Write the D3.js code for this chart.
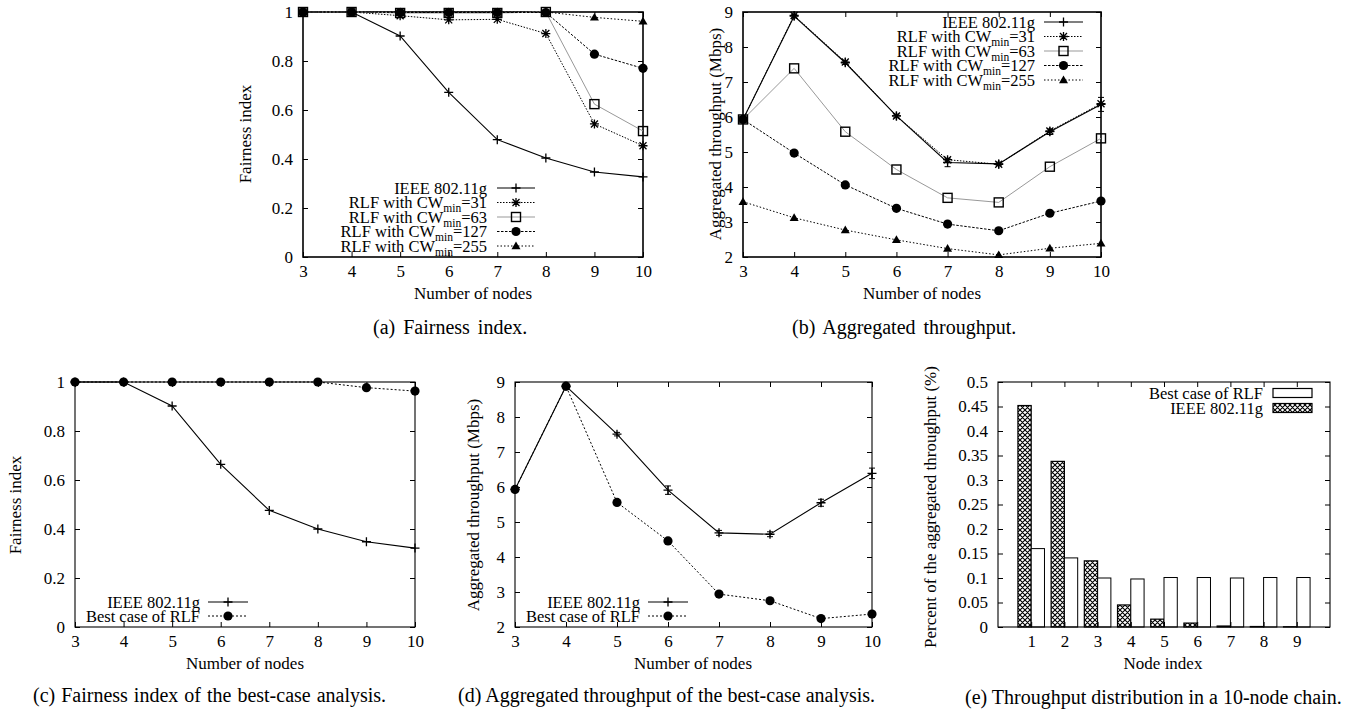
<!DOCTYPE html>
<html lang="en">
<head>
<meta charset="UTF-8" />
<title>RLF fairness and throughput</title>
<style>
  body { margin: 0; background: #fff; }
  svg { display: block; }
  text { font-family: "Liberation Serif", "Times New Roman", serif; fill: #000; }
</style>
</head>
<body>
<svg id="fig" width="1372" height="715"></svg>
<script src="https://d3js.org/d3.v7.min.js"></script>
<script>
const nodes = [3, 4, 5, 6, 7, 8, 9, 10];

// (a) fairness index
const fairIeee  = [1, 1, 0.902, 0.672, 0.479, 0.404, 0.347, 0.327];
const fairCw31  = [1, 1, 0.985, 0.968, 0.970, 0.912, 0.543, 0.454];
const fairCw63  = [1, 1, 0.996, 0.996, 0.996, 1, 0.624, 0.514];
const fairCw127 = [1, 1, 0.998, 0.998, 0.998, 0.998, 0.828, 0.770];
const fairCw255 = [1, 1, 1, 1, 1, 1, 0.978, 0.962];

// (b) aggregated throughput (Mbps)
const thrIeee    = [5.93, 8.88, 7.55, 6.03, 4.70, 4.66, 5.58, 6.36];
const thrIeeeErr = [0.02, 0.05, 0.05, 0.05, 0.12, 0.05, 0.08, 0.20];
const thrCw31    = [5.93, 8.90, 7.57, 6.03, 4.78, 4.65, 5.60, 6.38];
const thrCw63    = [5.93, 7.39, 5.58, 4.50, 3.69, 3.56, 4.58, 5.39];
const thrCw127   = [5.93, 4.97, 4.06, 3.39, 2.94, 2.75, 3.25, 3.60];
const thrCw255   = [3.58, 3.12, 2.77, 2.49, 2.24, 2.06, 2.25, 2.39];

// (c), (d) best case
const bestFairIeee   = [1, 1, 0.902, 0.664, 0.476, 0.400, 0.348, 0.322];
const bestFairRlf    = [1, 1, 1, 1, 1, 1, 0.977, 0.963];
const bestThrIeee    = [5.93, 8.88, 7.51, 5.91, 4.69, 4.65, 5.55, 6.39];
const bestThrIeeeErr = [0.02, 0.03, 0.05, 0.12, 0.07, 0.07, 0.10, 0.15];
const bestThrRlf     = [5.93, 8.88, 5.56, 4.46, 2.94, 2.75, 2.24, 2.37];

// (e) share of aggregated throughput per node, 10-node chain
const nodeIndex = [1, 2, 3, 4, 5, 6, 7, 8, 9];
const shareRlf  = [0.160, 0.141, 0.100, 0.098, 0.101, 0.101, 0.100, 0.101, 0.101];
const shareIeee = [0.452, 0.338, 0.135, 0.045, 0.016, 0.008, 0.002, 0.001, 0.0005];

const fairTicks = [0, 0.2, 0.4, 0.6, 0.8, 1];
const thrTicks = [2, 3, 4, 5, 6, 7, 8, 9];
const shareTicks = [0, 0.05, 0.1, 0.15, 0.2, 0.25, 0.3, 0.35, 0.4, 0.45, 0.5];

const styles = {
  ieee:  { color: "#000", dash: null,      width: 1.1, mark: "plus" },
  cw31:  { color: "#000", dash: "1.5,1.5", width: 1,   mark: "star" },
  cw63:  { color: "#999", dash: null,      width: 1,   mark: "square" },
  cw127: { color: "#000", dash: "2.5,1.5", width: 1,   mark: "circle" },
  cw255: { color: "#000", dash: "1.5,2",   width: 1,   mark: "triangle" },
  best:  { color: "#000", dash: "2,2",     width: 1,   mark: "circle" }
};

const svg = d3.select("#fig");
const fmt = d3.format("~g");

const defs = svg.append("defs");
const pat = defs.append("pattern").attr("id", "xhatch")
  .attr("patternUnits", "userSpaceOnUse").attr("width", 5).attr("height", 5);
pat.append("rect").attr("width", 5).attr("height", 5).attr("fill", "#fff");
pat.append("path").attr("d", "M0,0L5,5M5,0L0,5M-1,4L1,6M4,-1L6,1")
  .attr("stroke", "#000").attr("stroke-width", 1.1);

function styleAxis(g, showText) {
  g.select(".domain").remove();
  g.selectAll("line").attr("stroke", "#000");
  g.attr("font-family", "Liberation Serif").attr("font-size", 17);
  if (!showText) g.selectAll("text").remove();
}

function frame(box, x, y, xTicks, yTicks, frameWidth) {
  const g = svg.append("g");
  g.append("g").attr("transform", `translate(0,${box.bottom})`)
    .call(d3.axisBottom(x).tickValues(xTicks).tickSize(-5).tickPadding(8).tickFormat(fmt))
    .call(a => styleAxis(a, true));
  g.append("g").attr("transform", `translate(0,${box.top})`)
    .call(d3.axisTop(x).tickValues(xTicks).tickSize(-5))
    .call(a => styleAxis(a, false));
  g.append("g").attr("transform", `translate(${box.left},0)`)
    .call(d3.axisLeft(y).tickValues(yTicks).tickSize(-5).tickPadding(10).tickFormat(fmt))
    .call(a => styleAxis(a, true));
  g.append("g").attr("transform", `translate(${box.right},0)`)
    .call(d3.axisRight(y).tickValues(yTicks).tickSize(-5))
    .call(a => styleAxis(a, false));
  g.append("rect")
    .attr("x", box.left).attr("y", box.top)
    .attr("width", box.right - box.left).attr("height", box.bottom - box.top)
    .attr("fill", "none").attr("stroke", "#000").attr("stroke-width", frameWidth);
  return g;
}

function marker(g, kind, cx, cy) {
  const s = 4.5;
  if (kind === "plus" || kind === "star") {
    let d = `M${cx - s},${cy}H${cx + s}M${cx},${cy - s}V${cy + s}`;
    if (kind === "star") d += `M${cx - 3.5},${cy - 3.5}L${cx + 3.5},${cy + 3.5}M${cx - 3.5},${cy + 3.5}L${cx + 3.5},${cy - 3.5}`;
    g.append("path").attr("d", d).attr("stroke", "#000").attr("stroke-width", 1.3);
  } else if (kind === "square") {
    g.append("rect").attr("x", cx - s).attr("y", cy - s).attr("width", 2 * s).attr("height", 2 * s)
      .attr("fill", "none").attr("stroke", "#000").attr("stroke-width", 1.4);
  } else if (kind === "circle") {
    g.append("circle").attr("cx", cx).attr("cy", cy).attr("r", 4.6).attr("fill", "#000");
  } else if (kind === "triangle") {
    g.append("path").attr("d", `M${cx},${cy - 4.5}L${cx + 4.5},${cy + 3.2}L${cx - 4.5},${cy + 3.2}Z`).attr("fill", "#000");
  }
}

function series(xs, values, x, y, st, err) {
  const g = svg.append("g");
  const line = d3.line().x((d, i) => x(xs[i])).y(d => y(d));
  g.append("path").datum(values).attr("d", line)
    .attr("fill", "none").attr("stroke", st.color).attr("stroke-width", st.width)
    .attr("stroke-dasharray", st.dash);
  if (err) {
    values.forEach((v, i) => {
      const cx = x(xs[i]);
      const y0 = y(v - err[i]), y1 = y(v + err[i]);
      g.append("path").attr("d", `M${cx},${y0}V${y1}M${cx - 3},${y0}H${cx + 3}M${cx - 3},${y1}H${cx + 3}`)
        .attr("stroke", "#000").attr("stroke-width", 1);
    });
  }
  values.forEach((v, i) => marker(g, st.mark, x(xs[i]), y(v)));
}

function labelText(g, tx, ty, parts) {
  const t = g.append("text").attr("x", tx).attr("y", ty).attr("dy", "0.35em")
    .attr("text-anchor", "end").attr("font-size", 16.5);
  t.append("tspan").text(parts[0]);
  if (parts.length > 1) {
    t.append("tspan").attr("font-size", 11.5).attr("dy", 4).text(parts[1]);
    t.append("tspan").attr("dy", -4).text(parts[2]);
  }
}

function legend(rows, textRight, s0, s1, ys) {
  const g = svg.append("g");
  rows.forEach((r, i) => {
    const ly = ys[i];
    labelText(g, textRight, ly, r.label);
    g.append("path").attr("d", `M${s0},${ly}H${s1}`)
      .attr("stroke", r.style.color).attr("stroke-width", r.style.width)
      .attr("stroke-dasharray", r.style.dash);
    marker(g, r.style.mark, (s0 + s1) / 2, ly);
  });
}

function axisTitles(xTitle, xPos, yTitle, yPos, caption, cPos) {
  svg.append("text").attr("x", xPos[0]).attr("y", xPos[1]).attr("dy", "0.35em")
    .attr("text-anchor", "middle").attr("font-size", 17).text(xTitle);
  svg.append("text").attr("transform", `translate(${yPos[0]},${yPos[1]}) rotate(-90)`)
    .attr("dy", "0.35em").attr("text-anchor", "middle").attr("font-size", 17).text(yTitle);
  svg.append("text").attr("x", cPos[0]).attr("y", cPos[1]).attr("dy", "0.35em")
    .attr("text-anchor", "start").attr("font-size", 20).attr("word-spacing", cPos[2]).text(caption);
}

const fiveRows = [
  { label: ["IEEE 802.11g"], style: styles.ieee },
  { label: ["RLF with CW", "min", "=31"], style: styles.cw31 },
  { label: ["RLF with CW", "min", "=63"], style: styles.cw63 },
  { label: ["RLF with CW", "min", "=127"], style: styles.cw127 },
  { label: ["RLF with CW", "min", "=255"], style: styles.cw255 }
];
const twoRows = [
  { label: ["IEEE 802.11g"], style: styles.ieee },
  { label: ["Best case of RLF"], style: styles.best }
];

// (a)
{
  const box = { left: 303, right: 643, top: 12, bottom: 257 };
  const x = d3.scaleLinear().domain([3, 10]).range([box.left, box.right]);
  const y = d3.scaleLinear().domain([0, 1]).range([box.bottom, box.top]);
  frame(box, x, y, nodes, fairTicks, 1.6);
  series(nodes, fairIeee, x, y, styles.ieee);
  series(nodes, fairCw31, x, y, styles.cw31);
  series(nodes, fairCw63, x, y, styles.cw63);
  series(nodes, fairCw127, x, y, styles.cw127);
  series(nodes, fairCw255, x, y, styles.cw255);
  legend(fiveRows, 487, 497, 535, [188, 202.5, 217, 231.5, 246]);
  axisTitles("Number of nodes", [473, 293], "Fairness index", [245, 134], "(a) Fairness index.", [373, 327, 3]);
}

// (b)
{
  const box = { left: 743, right: 1101, top: 12, bottom: 257 };
  const x = d3.scaleLinear().domain([3, 10]).range([box.left, box.right]);
  const y = d3.scaleLinear().domain([2, 9]).range([box.bottom, box.top]);
  frame(box, x, y, nodes, thrTicks, 1.6);
  series(nodes, thrIeee, x, y, styles.ieee, thrIeeeErr);
  series(nodes, thrCw31, x, y, styles.cw31);
  series(nodes, thrCw63, x, y, styles.cw63);
  series(nodes, thrCw127, x, y, styles.cw127);
  series(nodes, thrCw255, x, y, styles.cw255);
  legend(fiveRows, 1035, 1044, 1083, [22, 36.5, 51, 65.5, 80]);
  axisTitles("Number of nodes", [922, 293], "Aggregated throughput (Mbps)", [715, 134], "(b) Aggregated throughput.", [792, 327, 3]);
}

// (c)
{
  const box = { left: 75, right: 415, top: 382, bottom: 627 };
  const x = d3.scaleLinear().domain([3, 10]).range([box.left, box.right]);
  const y = d3.scaleLinear().domain([0, 1]).range([box.bottom, box.top]);
  frame(box, x, y, nodes, fairTicks, 1.1);
  series(nodes, bestFairIeee, x, y, styles.ieee);
  series(nodes, bestFairRlf, x, y, styles.best);
  legend(twoRows, 200, 208, 248, [602, 616]);
  axisTitles("Number of nodes", [245, 663], "Fairness index", [15, 505], "(c) Fairness index of the best-case analysis.", [33, 695, 1]);
}

// (d)
{
  const box = { left: 515, right: 872, top: 382, bottom: 627 };
  const x = d3.scaleLinear().domain([3, 10]).range([box.left, box.right]);
  const y = d3.scaleLinear().domain([2, 9]).range([box.bottom, box.top]);
  frame(box, x, y, nodes, thrTicks, 1.1);
  series(nodes, bestThrIeee, x, y, styles.ieee, bestThrIeeeErr);
  series(nodes, bestThrRlf, x, y, styles.best);
  legend(twoRows, 640, 648, 688, [602, 616]);
  axisTitles("Number of nodes", [693, 663], "Aggregated throughput (Mbps)", [473, 505], "(d) Aggregated throughput of the best-case analysis.", [458, 695, 0]);
}

// (e)
{
  const box = { left: 998, right: 1330, top: 382, bottom: 627 };
  const x = d3.scaleLinear().domain([0, 10]).range([box.left, box.right]);
  const y = d3.scaleLinear().domain([0, 0.5]).range([box.bottom, box.top]);
  const bw = 0.4;
  const g = svg.append("g");
  g.selectAll("rect.ieee").data(shareIeee).join("rect").attr("class", "ieee")
    .attr("x", (d, i) => x(nodeIndex[i] - bw)).attr("width", (d, i) => x(nodeIndex[i]) - x(nodeIndex[i] - bw))
    .attr("y", d => y(d)).attr("height", d => y(0) - y(d))
    .attr("fill", "url(#xhatch)").attr("stroke", "#000").attr("stroke-width", 1.2);
  g.selectAll("rect.rlf").data(shareRlf).join("rect").attr("class", "rlf")
    .attr("x", (d, i) => x(nodeIndex[i])).attr("width", (d, i) => x(nodeIndex[i] + bw) - x(nodeIndex[i]))
    .attr("y", d => y(d)).attr("height", d => y(0) - y(d))
    .attr("fill", "#fff").attr("stroke", "#000").attr("stroke-width", 1);
  frame(box, x, y, nodeIndex, shareTicks, 1.1);

  const lg = svg.append("g");
  labelText(lg, 1263, 393, ["Best case of RLF"]);
  lg.append("rect").attr("x", 1273).attr("y", 388.5).attr("width", 39).attr("height", 9)
    .attr("fill", "#fff").attr("stroke", "#000").attr("stroke-width", 1.2);
  labelText(lg, 1263, 408, ["IEEE 802.11g"]);
  lg.append("rect").attr("x", 1273).attr("y", 403.5).attr("width", 39).attr("height", 9)
    .attr("fill", "url(#xhatch)").attr("stroke", "#000").attr("stroke-width", 1.2);
  axisTitles("Node index", [1163, 663], "Percent of the aggregated throughput (%)", [930, 507], "(e) Throughput distribution in a 10-node chain.", [965, 697, 0]);
}
</script>
</body>
</html>
